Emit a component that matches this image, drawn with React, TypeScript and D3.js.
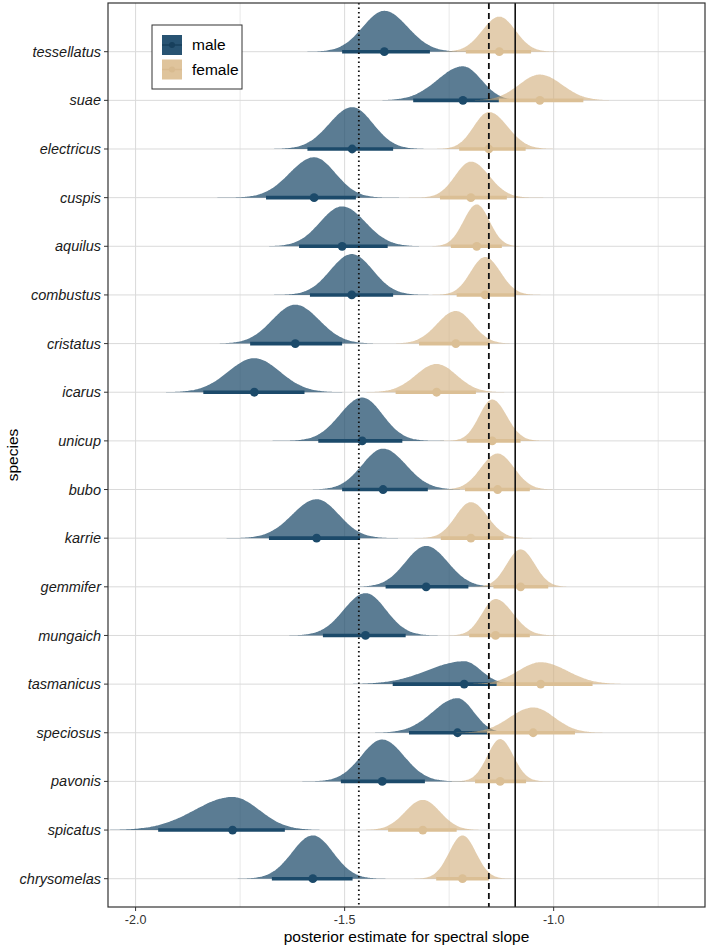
import * as d3 from "d3";

const species = [
  "tessellatus", "suae", "electricus", "cuspis", "aquilus", "combustus",
  "cristatus", "icarus", "unicup", "bubo", "karrie", "gemmifer",
  "mungaich", "tasmanicus", "speciosus", "pavonis", "spicatus", "chrysomelas",
];

// male posterior: median, interval ends, relative slab height
const maleMedian = [-1.405, -1.217, -1.482, -1.573, -1.506, -1.483, -1.618, -1.716, -1.458, -1.408, -1.567, -1.305, -1.45, -1.214, -1.23, -1.41, -1.768, -1.576];
const maleLower = [-1.506, -1.336, -1.589, -1.688, -1.609, -1.583, -1.726, -1.838, -1.563, -1.506, -1.681, -1.402, -1.552, -1.385, -1.346, -1.509, -1.946, -1.674];
const maleUpper = [-1.296, -1.131, -1.384, -1.473, -1.397, -1.384, -1.506, -1.596, -1.362, -1.301, -1.463, -1.204, -1.354, -1.136, -1.154, -1.308, -1.643, -1.481];
const maleHeight = [0.84, 0.7, 0.86, 0.83, 0.82, 0.84, 0.8, 0.7, 0.89, 0.84, 0.8, 0.84, 0.87, 0.47, 0.71, 0.86, 0.68, 0.89];

// female posterior
const femaleMedian = [-1.13, -1.033, -1.155, -1.198, -1.184, -1.164, -1.234, -1.28, -1.147, -1.134, -1.198, -1.079, -1.139, -1.031, -1.049, -1.128, -1.313, -1.218];
const femaleLower = [-1.21, -1.131, -1.226, -1.272, -1.246, -1.232, -1.322, -1.378, -1.208, -1.212, -1.27, -1.144, -1.202, -1.136, -1.159, -1.188, -1.396, -1.281];
const femaleUpper = [-1.054, -0.929, -1.067, -1.112, -1.124, -1.092, -1.155, -1.186, -1.079, -1.057, -1.12, -1.013, -1.057, -0.907, -0.949, -1.066, -1.232, -1.155];
const femaleHeight = [0.72, 0.53, 0.76, 0.74, 0.86, 0.78, 0.67, 0.58, 0.85, 0.74, 0.74, 0.77, 0.75, 0.45, 0.52, 0.87, 0.62, 0.89];

const refLines = [
  { value: -1.466, dash: "1.5,3" },
  { value: -1.155, dash: "6,4" },
  { value: -1.092, dash: null },
];

const xTicks = [-2.0, -1.5, -1.0];
const xMinor = [-1.75, -1.25, -0.75];

const MALE = "#1c4a6a";
const FEMALE_SLAB = "#d2ae7c";
const FEMALE_LINE = "#dbbf95";
const FONT = "'Liberation Sans', Arial, sans-serif";

const width = 709;
const height = 948;
const panel = { left: 108, right: 705, top: 3, bottom: 907 };

const x = d3.scaleLinear().domain([-2.066, -0.638]).range([panel.left, panel.right]);
const y = d3.scalePoint<string>().domain(species).range([51.7, 878.7]);
const step = y.step();

function slabPath(m: number, lo: number, hi: number, h: number, base: number) {
  const sdL = (m - lo) / 1.96;
  const sdR = (hi - m) / 1.96;
  const xs = d3.range(0, 161).map((i) => m - 4 * sdL + (i / 160) * 4 * (sdL + sdR));
  const pts: [number, number][] = xs.map((v) => {
    const s = v < m ? sdL : sdR;
    return [v, h * Math.exp(-0.5 * ((v - m) / s) ** 2)];
  });
  const area = d3
    .area<[number, number]>()
    .x((d) => x(d[0]))
    .y0(base)
    .y1((d) => base - d[1] * step)
    .curve(d3.curveBasis);
  return area(pts) ?? "";
}

export default function App() {
  return (
    <svg
      width={width}
      height={height}
      style={{ position: "absolute", left: 0, top: 0, background: "#fff" }}
      fontFamily={FONT}
    >
      {/* grid */}
      {xMinor.map((v) => (
        <line key={"mn" + v} x1={x(v)} x2={x(v)} y1={panel.top} y2={panel.bottom} stroke="#e2e2e2" strokeWidth={0.8} />
      ))}
      {xTicks.map((v) => (
        <line key={"mj" + v} x1={x(v)} x2={x(v)} y1={panel.top} y2={panel.bottom} stroke="#dadada" strokeWidth={1} />
      ))}
      {species.map((s) => (
        <line key={"h" + s} x1={panel.left} x2={panel.right} y1={y(s)} y2={y(s)} stroke="#dadada" strokeWidth={1} />
      ))}

      {/* male */}
      {species.map((s, i) => {
        const b = y(s)!;
        return (
          <g key={"m" + s}>
            <path d={slabPath(maleMedian[i], maleLower[i], maleUpper[i], maleHeight[i], b)} fill={MALE} fillOpacity={0.72} />
            <line x1={x(maleLower[i])} x2={x(maleUpper[i])} y1={b} y2={b} stroke={MALE} strokeWidth={3.6} />
            <circle cx={x(maleMedian[i])} cy={b} r={4.4} fill={MALE} />
          </g>
        );
      })}

      {/* female */}
      {species.map((s, i) => {
        const b = y(s)!;
        return (
          <g key={"f" + s}>
            <path d={slabPath(femaleMedian[i], femaleLower[i], femaleUpper[i], femaleHeight[i], b)} fill={FEMALE_SLAB} fillOpacity={0.62} />
            <line x1={x(femaleLower[i])} x2={x(femaleUpper[i])} y1={b} y2={b} stroke={FEMALE_LINE} strokeWidth={3.6} />
            <circle cx={x(femaleMedian[i])} cy={b} r={4.4} fill={FEMALE_LINE} />
          </g>
        );
      })}

      {/* reference lines */}
      {refLines.map((r) => (
        <line
          key={"r" + r.value}
          x1={x(r.value)}
          x2={x(r.value)}
          y1={panel.top}
          y2={panel.bottom}
          stroke="#111"
          strokeWidth={r.dash ? 1.8 : 1.6}
          strokeDasharray={r.dash ?? undefined}
        />
      ))}

      {/* panel border */}
      <rect
        x={panel.left}
        y={panel.top}
        width={panel.right - panel.left}
        height={panel.bottom - panel.top}
        fill="none"
        stroke="#333"
        strokeWidth={1.2}
      />

      {/* y axis */}
      {species.map((s) => (
        <g key={"yl" + s} transform={`translate(${panel.left},${y(s)})`}>
          <line x1={-4} x2={0} stroke="#333" strokeWidth={1} />
          <text x={-7} dy="0.35em" textAnchor="end" fontSize={14.5} fontStyle="italic" fill="#1a1a1a">
            {s}
          </text>
        </g>
      ))}
      <text
        transform={`translate(13,${(panel.top + panel.bottom) / 2}) rotate(-90)`}
        textAnchor="middle"
        dy="0.35em"
        fontSize={15.5}
        fill="#000"
      >
        species
      </text>

      {/* x axis */}
      {xTicks.map((v) => (
        <g key={"xl" + v} transform={`translate(${x(v)},${panel.bottom})`}>
          <line y1={0} y2={4} stroke="#333" strokeWidth={1} />
          <text y={13} dy="0.35em" textAnchor="middle" fontSize={12.5} fill="#333">
            {d3.format(".1f")(v).replace("−", "-")}
          </text>
        </g>
      ))}
      <text x={(panel.left + panel.right) / 2} y={937} dy="0.35em" textAnchor="middle" fontSize={15.5} fill="#000">
        posterior estimate for spectral slope
      </text>

      {/* legend */}
      <g transform="translate(152,25)">
        <rect x={0} y={0} width={90} height={64} fill="#fff" stroke="#333" strokeWidth={1} />
        <rect x={10} y={10} width={20} height={20} fill={MALE} fillOpacity={0.95} />
        <line x1={10} x2={30} y1={20} y2={20} stroke="#173f5c" strokeWidth={1.5} />
        <circle cx={20} cy={20} r={3} fill="#173f5c" />
        <rect x={10} y={34.5} width={20} height={20} fill="#dfc49c" />
        <line x1={10} x2={30} y1={44.5} y2={44.5} stroke="#d8bb90" strokeWidth={1.5} />
        <circle cx={20} cy={44.5} r={3} fill="#d8bb90" />
        <text x={40} y={20} dy="0.35em" fontSize={15.5} fill="#000">male</text>
        <text x={40} y={44.5} dy="0.35em" fontSize={15.5} fill="#000">female</text>
      </g>
    </svg>
  );
}
